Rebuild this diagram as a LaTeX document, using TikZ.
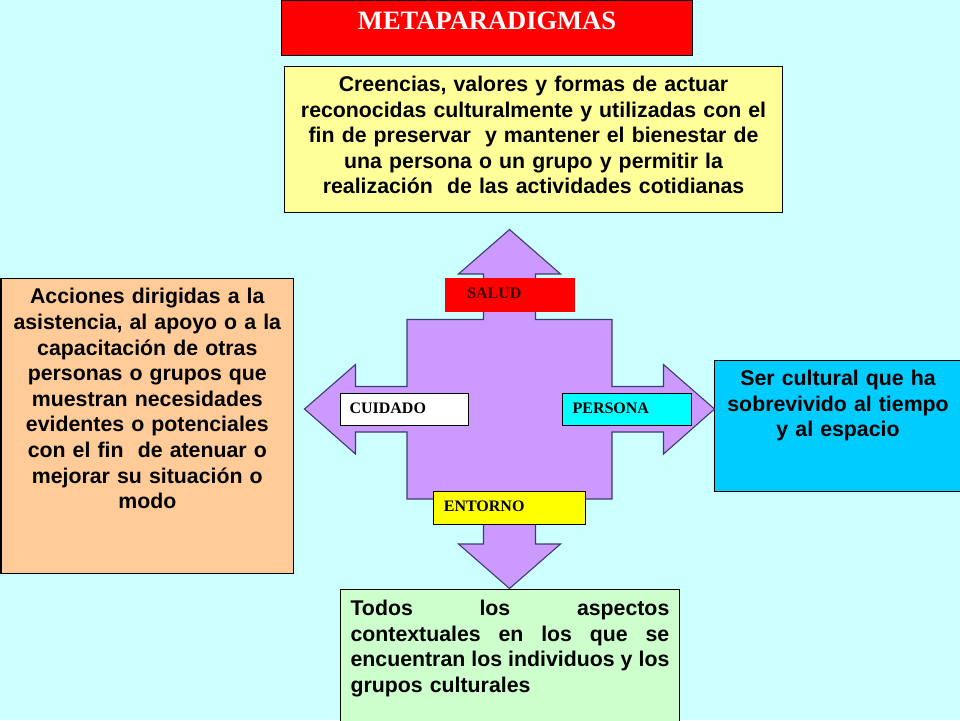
\documentclass[tikz,border=0pt]{standalone}
\usepackage{fontspec}
\setmainfont{Liberation Serif}
\newfontfamily\sansf{Liberation Sans}
\definecolor{bgc}{HTML}{CCFFFF}
\definecolor{titlered}{HTML}{FF0000}
\definecolor{yelbox}{HTML}{FFFF99}
\definecolor{orabox}{HTML}{FFCC99}
\definecolor{cyabox}{HTML}{00CCFF}
\definecolor{grebox}{HTML}{CCFFCC}
\definecolor{crossfill}{HTML}{CC99FF}
\definecolor{crossline}{HTML}{3C3C6A}
\definecolor{lblcyan}{HTML}{00FFFF}
\definecolor{lblyellow}{HTML}{FFFF00}
\definecolor{darkred}{HTML}{3A0000}
\newcommand\jsp{\hskip 0.278em plus 1fill minus 0.1em\relax}
\newcommand\jline[1]{\leavevmode\hbox to 318.8pt{#1}}
\begin{document}
\begin{tikzpicture}[x=1pt,y=-1pt,
  box/.style={draw=black, line width=1.1pt, inner ysep=0pt, anchor=north west},
  bigtxt/.style={font=\sansf\bfseries\fontsize{21.3}{25.6}\selectfont},
  lbltxt/.style={font=\bfseries\fontsize{16}{19}\selectfont, align=left},
  crossshape/.style={fill=crossfill, draw=crossline, line width=1.1pt, line join=miter}
]
\useasboundingbox (0,0) rectangle (960,720);
\clip (0,0) rectangle (960,720);
\fill[bgc] (0,0) rectangle (960,720);

% title
\node[box, fill=titlered, inner xsep=0pt, text width=411pt, align=center,
      text height=29pt, text depth=26pt, text=white,
      font=\bfseries\fontsize{26.5}{30}\selectfont] (title) at (281,0.3) {METAPARADIGMAS};

% top box
\node[box, fill=yelbox, inner xsep=10pt, text width=478pt, align=center,
      text height=25.5pt, text depth=121pt, bigtxt] (creencias) at (284,65.5)
  {Creencias, valores y formas de actuar\\
   reconocidas culturalmente y utilizadas con el\\
   fin de preservar\ \ y mantener el bienestar de\\
   una persona o un grupo y permitir la\\
   realización\ \ de las actividades cotidianas};

% left box
\node[box, fill=orabox, inner xsep=10pt, text width=272.5pt, align=center,
      text height=25.3pt, text depth=269.7pt, bigtxt] (acciones) at (0.5,278)
  {Acciones dirigidas a la\\
   asistencia, al apoyo o a la\\
   capacitación de otras\\
   personas o grupos que\\
   muestran necesidades\\
   evidentes o potenciales\\
   con el fin\ \ de atenuar o\\
   mejorar su situación o\\
   modo};

% right box
\node[box, fill=cyabox, inner xsep=10pt, text width=227pt, align=center,
      text height=25pt, text depth=106pt, bigtxt] (ser) at (714,360)
  {Ser cultural que ha\\
   sobrevivido al tiempo\\
   y al espacio};

% bottom box
\node[box, fill=grebox, inner xsep=10.5pt, text width=318.8pt, align=left,
      text height=25.7pt, text depth=125pt, bigtxt] (todos) at (339.5,589.3)
  {\jline{Todos\jsp los\jsp aspectos}\\
   \jline{contextuales\jsp en\jsp los\jsp que\jsp se}\\
   \jline{encuentran\jsp los\jsp individuos\jsp y\jsp los}\\
   grupos culturales};

% central cross
\draw[crossshape]
  (509.5,229.5) -- (560.5,274) -- (535.5,274) -- (535.5,319.5) -- (612,319.5)
  -- (612,386.5) -- (663.5,386.5) -- (663.5,364.5) -- (714.5,409) -- (663.5,454)
  -- (663.5,432) -- (612,432) -- (612,499) -- (535.5,499) -- (535.5,544)
  -- (560.5,544) -- (509.5,588.5) -- (458.5,544) -- (483.5,544) -- (483.5,499)
  -- (407,499) -- (407,432) -- (355.5,432) -- (355.5,454) -- (304.5,409)
  -- (355.5,364.5) -- (355.5,386.5) -- (407,386.5) -- (407,319.5) -- (483.5,319.5)
  -- (483.5,274) -- (458.5,274) -- cycle;

% labels
\node[box, fill=titlered, draw=none, inner xsep=22pt, text width=86pt,
      text height=20.6pt, text depth=13.4pt, lbltxt, text=darkred] (salud) at (444.7,277.7) {SALUD};
\node[box, fill=white, inner xsep=8.7pt, text width=110.6pt,
      text height=19.4pt, text depth=12.6pt, lbltxt] (cuidado) at (340.3,393.3) {CUIDADO};
\node[box, fill=lblcyan, inner xsep=9.7pt, text width=109.6pt,
      text height=19.4pt, text depth=12.6pt, lbltxt] (persona) at (562.3,393.3) {PERSONA};
\node[box, fill=lblyellow, inner xsep=10pt, text width=132pt,
      text height=19.4pt, text depth=13.6pt, lbltxt] (entorno) at (433.3,491.3) {ENTORNO};
\end{tikzpicture}
\end{document}
